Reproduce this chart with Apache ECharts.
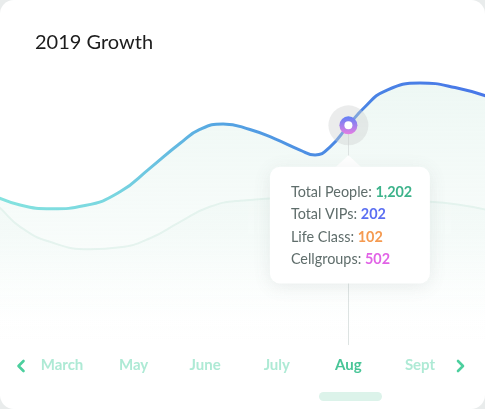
<!DOCTYPE html>
<html>
<head>
<meta charset="utf-8">
<script src="https://cdn.jsdelivr.net/npm/echarts@6/dist/echarts.min.js"></script>
<style>
  html, body { margin: 0; padding: 0; background: #e9ecec; }
  #chart { width: 485px; height: 409px; background: #ffffff; border-radius: 14px; overflow: hidden; }
</style>
</head>
<body>
<div id="chart"></div>
<script>
// ---- data ----
const monthLabels = ['', 'March', 'May', 'June', 'July', 'Aug', 'Sept', ''];
// x positions on a hidden value axis: March = 0, May = 20, June = 40, July = 60, Aug = 80, Sept = 100
const mainX = [-20, -11.7, -2.8, 6.4, 16.2, 24.6, 33.0, 38.5, 45.0, 52.5, 59.5, 66.5, 70.7, 74.9, 80, 84.6, 90.2, 100, 109.8, 120];
const totalPeople = [818, 756, 735, 753, 830, 963, 1102, 1179, 1210, 1179, 1126, 1064, 1036, 1082, 1202, 1305, 1394, 1439, 1414, 1355];
const prevX = [-20, -17.3, -11.7, -3.4, 7.8, 16.2, 24.6, 33.0, 41.3, 49.7, 66.5, 102.8, 120];
const previousYear = [787, 739, 634, 550, 508, 519, 570, 662, 746, 780, 795, 774, 722];
const selectedMonth = 'Aug';
const selectedX = 80;
const tipLabels = ['Total People', 'Total VIPs', 'Life Class', 'Cellgroups'];
const tipValues = ['1,202', '202', '102', '502'];
const tipColors = ['#3db38b', '#5b6ff2', '#f59a50', '#e163e6'];

// ---- build ----
const chart = echarts.init(document.getElementById('chart'), null, { renderer: 'canvas' });
const FONT = 'Lato, "Open Sans", sans-serif';

const mainData = mainX.map((x, i) => [x, totalPeople[i]]);
const prevData = prevX.map((x, i) => [x, previousYear[i]]);
const selVal = totalPeople[mainX.indexOf(selectedX)];

const tipRich = { k: { color: '#5f6d6b', fontSize: 14.4, fontFamily: FONT, lineHeight: 22.4 } };
tipColors.forEach((c, i) => {
  tipRich['v' + i] = { color: c, fontSize: 14.4, fontWeight: 'bold', fontFamily: FONT, lineHeight: 22.4 };
});
const tipText = tipLabels.map((l, i) => `{k|${l}: }{v${i}|${tipValues[i]}}`).join('\n');

const option = {
  animation: false,
  title: {
    text: '2019 Growth', left: 30, top: 28,
    textStyle: { fontFamily: FONT, fontSize: 20, fontWeight: 'normal', color: '#1c1c1c' }
  },
  grid: { left: -9.6, right: -6.6, top: 40, bottom: 0, containLabel: false, outerBoundsMode: 'none' },
  xAxis: [
    {
      type: 'category', data: monthLabels, boundaryGap: false,
      axisLine: { show: false }, axisTick: { show: false }, splitLine: { show: false },
      axisLabel: {
        inside: true, margin: 44, verticalAlign: 'middle', interval: 0,
        color: '#aeead5', fontSize: 15, fontWeight: 'bold', fontFamily: FONT,
        formatter: v => v === selectedMonth ? `{a|${v}}` : v,
        rich: { a: { color: '#48c597', fontSize: 15, fontWeight: 'bold', fontFamily: FONT } }
      }
    },
    { type: 'value', min: -20, max: 120, show: false }
  ],
  yAxis: { type: 'value', min: -386, max: 1680, show: false },
  series: [
    {
      type: 'line', xAxisIndex: 1, data: prevData, smooth: 0.5, symbol: 'none', z: 1,
      lineStyle: { color: '#e0f1eb', width: 2 },
      areaStyle: {
        color: new echarts.graphic.LinearGradient(0, 0, 0, 1, [
          { offset: 0, color: 'rgba(225,242,236,0.35)' },
          { offset: 1, color: 'rgba(240,250,246,0)' }
        ])
      }
    },
    {
      type: 'line', xAxisIndex: 1, data: mainData, smooth: 0.5, symbol: 'none', z: 2,
      lineStyle: {
        width: 3,
        color: new echarts.graphic.LinearGradient(0, 0, 1, 0, [
          { offset: 0, color: '#86e4df' },
          { offset: 0.25, color: '#79d6e0' },
          { offset: 0.45, color: '#55a6e2' },
          { offset: 0.7, color: '#4a86e4' },
          { offset: 1, color: '#4876e8' }
        ])
      },
      areaStyle: {
        color: new echarts.graphic.LinearGradient(0, 0, 0, 1, [
          { offset: 0, color: 'rgba(222,241,234,0.75)' },
          { offset: 0.6, color: 'rgba(236,247,243,0.55)' },
          { offset: 1, color: 'rgba(255,255,255,0.2)' }
        ])
      },
      markLine: {
        silent: true, symbol: 'none', z: 3,
        label: { show: false },
        lineStyle: { color: '#dde3e2', width: 1, type: 'solid' },
        data: [[{ coord: [selectedX, selVal] }, { coord: [selectedX, -28] }]]
      },
      markPoint: {
        silent: true, z: 10,
        data: [
          { coord: [selectedX, selVal], symbol: 'circle', symbolSize: 40,
            itemStyle: { color: 'rgba(205,208,208,0.4)' }, label: { show: false } },
          { coord: [selectedX, selVal], symbol: 'circle', symbolSize: 18,
            itemStyle: { color: new echarts.graphic.LinearGradient(0, 0, 0, 1, [
              { offset: 0, color: '#6280f6' }, { offset: 1, color: '#e57ee2' }
            ]) }, label: { show: false } },
          { coord: [selectedX, selVal], symbol: 'circle', symbolSize: 8,
            itemStyle: { color: '#ffffff' }, label: { show: false } },
          { coord: [selectedX, selVal], symbol: 'rect', symbolSize: 1,
            itemStyle: { color: 'rgba(0,0,0,0)' },
            label: {
              show: true, position: [-78, 42], align: 'left', verticalAlign: 'top',
              formatter: tipText, rich: tipRich,
              backgroundColor: '#ffffff', borderRadius: 10,
              padding: [14, 17, 13, 21], width: 122,
              shadowBlur: 18, shadowColor: 'rgba(90,110,105,0.12)', shadowOffsetY: 3
            } },
          { coord: [selectedX, selVal], symbol: 'triangle', symbolSize: [28, 13],
            symbolOffset: [0, 36.5], itemStyle: { color: '#ffffff' }, label: { show: false } }
        ]
      }
    }
  ],
  graphic: [
    { type: 'polyline', shape: { points: [[23.5, 361], [18.5, 366], [23.5, 371]] },
      style: { stroke: '#4ccf9e', lineWidth: 2.6, fill: null, lineCap: 'round', lineJoin: 'round' } },
    { type: 'polyline', shape: { points: [[458, 361], [463, 366], [458, 371]] },
      style: { stroke: '#4ccf9e', lineWidth: 2.6, fill: null, lineCap: 'round', lineJoin: 'round' } },
    { type: 'rect', shape: { x: 319, y: 392, width: 63, height: 9, r: 4.5 },
      style: { fill: '#dcf3ea' } }
  ]
};
chart.setOption(option);
</script>
</body>
</html>
